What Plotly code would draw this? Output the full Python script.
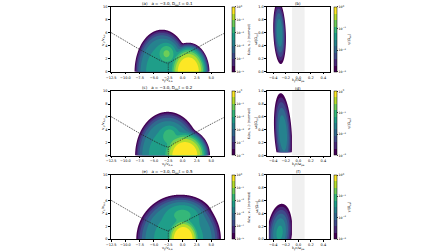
import numpy as np
import plotly.graph_objects as go

W, H = 448, 252

# ---------------- values ----------------
left_panel_tags = ["(a)", "(c)", "(e)"]
right_panel_tags = ["(b)", "(d)", "(f)"]
a_value = -3.0
dmumu_t = [0.1, 0.2, 0.5]

# electron distribution: core population (log10 peak, centre, reach of 1e-5 contour)
core_log_peak = [0.0, 0.0, 0.0]
core_vpar = [1.0, 0.4, 0.1]
core_reach_par = [3.7, 4.4, 3.3]
core_reach_perp = [4.5, 4.2, 3.8]
core_flat = [3.3, 3.3, 3.3]

# scattered halo population
halo_log_peak = [-2.4, -2.4, -2.4]
halo_vpar = [-3.6, -2.6, -0.7]
halo_reach_par = [4.8, 5.7, 7.4]
halo_reach_perp = [6.5, 6.8, 6.8]
halo_flat = [6.0, 6.0, 6.0]

# enhanced patch inside the halo
patch_log_peak = [-1.4, -1.6, -1.9]
patch_vpar = [-2.8, -2.3, 0.0]
patch_vperp = [2.8, 3.0, 3.8]
patch_reach_par = [2.6, 2.6, 5.0]
patch_reach_perp = [2.6, 2.6, 3.0]

# resonance curve (dashed)
res_vpar = [-12.5, -10.0, -7.5, -5.5, -3.5, -2.5, -1.5, 0.0, 2.5, 5.0, 7.3]
res_vperp = [6.05, 4.75, 3.45, 2.5, 1.6, 1.35, 1.85, 2.55, 3.7, 4.9, 5.95]
res_vert_vpar = [-2.5, -2.5]
res_vert_vperp = [0.0, 1.35]

# growth-rate regions
gam_log_peak = [-1.5, -1.5, -1.4]
gam_k = [-0.30, -0.245, -0.30]
gam_w = [0.60, 0.35, 0.10]
gam_reach_k = [0.10, 0.14, 0.20]
gam_reach_w = [0.48, 0.62, 0.45]
gam_tilt = [-0.04, -0.06, 0.08]
gam_k_lo = [-0.5, -0.5, -0.47]
gam_k_hi = [-0.1, -0.1, -0.1]
gam_w_lo = [0.0, 0.05, 0.0]
band_k = [-0.1, 0.1]

left_xticks = [-12.5, -10.0, -7.5, -5.0, -2.5, 0.0, 2.5, 5.0]
left_yticks = [0, 2, 4, 6, 8, 10]
right_xticks = [-0.4, -0.2, 0.0, 0.2, 0.4]
right_yticks = [0.0, 0.2, 0.4, 0.6, 0.8, 1.0]
f_cbar_exps = [0, -1, -2, -3, -4, -5]
g_cbar_exps = [0, -1, -2, -3]

VIR = ['#440154', '#482878', '#3e4989', '#31688e', '#26828e',
       '#1f9e89', '#35b779', '#6ece58', '#b5de2b', '#fde725']

# ---------------- geometry ----------------
def px2x(p):
    return p / W

def py2y(p):
    return 1 - p / H

LEFT_PX = (107.0, 221.7)
RIGHT_PX = (265.0, 328.3)
ROWS_PX = [(5.0, 71.0), (90.7, 156.0), (175.7, 241.0)]
FONT = "DejaVu Sans"

LOG_E = np.log10(np.e)


def component(X, Y, logA, cx, cy, rx, ry, p, floor=-5.0):
    dedge = ((logA - floor) / LOG_E) ** (1.0 / p)
    wx, wy = rx / dedge, ry / dedge
    d = np.sqrt(((X - cx) / wx) ** 2 + ((Y - cy) / wy) ** 2)
    return 10 ** logA * np.exp(-d ** p)


vpar = np.linspace(-12.6, 7.4, 501)
vperp = np.linspace(0, 10.0, 251)
VX, VY = np.meshgrid(vpar, vperp)

kk = np.linspace(-0.5, 0.5, 401)
ww = np.linspace(0, 1.0, 301)
KX, WY = np.meshgrid(kk, ww)

contour_cs = [[0, 'rgba(255,255,255,0)']] + [[(i + 1) / 10, VIR[i]] for i in range(10)]
bar_cs = []
for i in range(10):
    bar_cs += [[i / 10, VIR[i]], [(i + 1) / 10, VIR[i]]]

fig = go.Figure()
layout_axes = {}
annotations = []
shapes = []


def fmt(v, nd):
    s = f"{v:.{nd}f}"
    return s.replace('-', '\u2212')


def exp_lbl(e):
    return "10<sup>" + (str(e).replace('-', '\u2212')) + "</sup>"


def axis(domain, rng, tv, tt, anchor):
    return dict(domain=domain, range=rng, tickvals=tv, ticktext=tt,
                showgrid=False, zeroline=False, showline=True, linecolor='black',
                linewidth=0.6, mirror=True, ticks='outside', ticklen=1.8,
                tickwidth=0.5, tickcolor='black',
                tickfont=dict(size=3.5, color='black', family=FONT), anchor=anchor)


for r in range(3):
    top, bot = ROWS_PX[r]
    ydom = [py2y(bot), py2y(top)]
    ixl = 2 * r + 1
    ixr = 2 * r + 2
    xl, yl = f"x{ixl}", f"y{ixl}"
    xr, yr = f"x{ixr}", f"y{ixr}"

    # ---- left: distribution ----
    f = (component(VX, VY, core_log_peak[r], core_vpar[r], 0.0,
                   core_reach_par[r], core_reach_perp[r], core_flat[r])
         + component(VX, VY, halo_log_peak[r], halo_vpar[r], 0.0,
                     halo_reach_par[r], halo_reach_perp[r], halo_flat[r])
         + component(VX, VY, patch_log_peak[r], patch_vpar[r], patch_vperp[r],
                     patch_reach_par[r], patch_reach_perp[r], 2.0))
    logf = np.log10(f + 1e-30)
    fig.add_trace(go.Contour(
        x=vpar, y=vperp, z=logf, xaxis=xl, yaxis=yl,
        autocontour=False, contours=dict(start=-5, end=-0.5, size=0.5, coloring='fill', showlines=False),
        line=dict(width=0), colorscale=contour_cs, showscale=False, hoverinfo='skip'))
    fig.add_trace(go.Scatter(x=res_vpar, y=res_vperp, xaxis=xl, yaxis=yl, mode='lines',
                             line=dict(color='#222222', width=0.7, dash='1.6px,1.0px'),
                             line_shape='spline', hoverinfo='skip', showlegend=False))
    fig.add_trace(go.Scatter(x=res_vert_vpar, y=res_vert_vperp, xaxis=xl, yaxis=yl, mode='lines',
                             line=dict(color='#222222', width=0.7, dash='1.0px,0.8px'),
                             hoverinfo='skip', showlegend=False))
    # colourbar for f
    fig.add_trace(go.Scatter(
        x=[-100], y=[-100], xaxis=xl, yaxis=yl, mode='markers', showlegend=False, hoverinfo='skip',
        marker=dict(color=[-2], cmin=-5, cmax=0, colorscale=bar_cs, showscale=True, size=1,
                    colorbar=dict(x=px2x(229.3), xanchor='left', xpad=0, ypad=0,
                                  thickness=3.4, thicknessmode='pixels',
                                  len=(bot - top) / H, lenmode='fraction',
                                  y=py2y((top + bot) / 2), yanchor='middle',
                                  outlinewidth=0.5, outlinecolor='black',
                                  ticks='outside', ticklen=1.2, tickwidth=0.4,
                                  tickvals=f_cbar_exps, ticktext=[exp_lbl(e) for e in f_cbar_exps],
                                  tickfont=dict(size=3.2, family=FONT, color='black'),
                                  title=dict(text="f<sub>e</sub>(v<sub>∥</sub>, v<sub>⊥</sub>) (normed)",
                                             side='right', font=dict(size=3.3, family=FONT, color='black'))))))

    layout_axes[f"xaxis{ixl}"] = axis([px2x(LEFT_PX[0]), px2x(LEFT_PX[1])], [-12.55, 7.28],
                                      left_xticks, [fmt(v, 1) for v in left_xticks], yl)
    layout_axes[f"yaxis{ixl}"] = axis(ydom, [0, 10], left_yticks, [str(v) for v in left_yticks], xl)

    # ---- right: growth rate ----
    Ws = WY - gam_w[r]
    Ks = KX - gam_k[r] - gam_tilt[r] * Ws
    dn = (Ks / gam_reach_k[r]) ** 2 + (Ws / gam_reach_w[r]) ** 2
    logg = gam_log_peak[r] - (gam_log_peak[r] + 3.0) * dn
    mask = (KX < gam_k_lo[r]) | (KX > gam_k_hi[r]) | (WY < gam_w_lo[r])
    logg = np.where(mask, -10.0, logg)
    shapes.append(dict(type='rect', xref=xr, yref=yr, x0=band_k[0], x1=band_k[1], y0=0, y1=1,
                       fillcolor='#f0f0f0', line=dict(width=0), layer='below'))
    fig.add_trace(go.Contour(
        x=kk, y=ww, z=logg, xaxis=xr, yaxis=yr,
        autocontour=False, contours=dict(start=-3, end=-0.3, size=0.3, coloring='fill', showlines=False),
        line=dict(width=0), colorscale=contour_cs, showscale=False, hoverinfo='skip'))
    fig.add_trace(go.Scatter(
        x=[-100], y=[-100], xaxis=xr, yaxis=yr, mode='markers', showlegend=False, hoverinfo='skip',
        marker=dict(color=[-2], cmin=-3, cmax=0, colorscale=bar_cs, showscale=True, size=1,
                    colorbar=dict(x=px2x(332.7), xanchor='left', xpad=0, ypad=0,
                                  thickness=3.4, thicknessmode='pixels',
                                  len=(bot - top) / H, lenmode='fraction',
                                  y=py2y((top + bot) / 2), yanchor='middle',
                                  outlinewidth=0.5, outlinecolor='black',
                                  ticks='outside', ticklen=1.2, tickwidth=0.4,
                                  tickvals=g_cbar_exps, ticktext=[exp_lbl(e) for e in g_cbar_exps],
                                  tickfont=dict(size=3.2, family=FONT, color='black'),
                                  title=dict(text="γ/|Ω<sub>ce</sub>|",
                                             side='right', font=dict(size=3.3, family=FONT, color='black'))))))
    layout_axes[f"xaxis{ixr}"] = axis([px2x(RIGHT_PX[0]), px2x(RIGHT_PX[1])], [-0.5, 0.5],
                                      right_xticks, [fmt(v, 1) for v in right_xticks], yr)
    layout_axes[f"yaxis{ixr}"] = axis(ydom, [0, 1], right_yticks, [fmt(v, 1) for v in right_yticks], xr)

    # ---- texts ----
    tf = dict(size=4.0, family=FONT, color='black')
    lf = dict(size=3.5, family=FONT, color='black')
    annotations.append(dict(
        text=f"{left_panel_tags[r]}   a = {fmt(a_value, 1)}, D<sub>μμ</sub>t = {dmumu_t[r]}",
        x=px2x(sum(LEFT_PX) / 2), y=py2y(top - 3.0), xref='paper', yref='paper',
        showarrow=False, font=tf, xanchor='center', yanchor='middle'))
    annotations.append(dict(
        text=right_panel_tags[r], x=px2x(sum(RIGHT_PX) / 2), y=py2y(top - 3.0),
        xref='paper', yref='paper', showarrow=False, font=tf, xanchor='center', yanchor='middle'))
    annotations.append(dict(
        text="v<sub>∥</sub>/v<sub>A,e</sub>", x=px2x(sum(LEFT_PX) / 2), y=py2y(bot + 9.0),
        xref='paper', yref='paper', showarrow=False, font=lf, xanchor='center', yanchor='middle'))
    annotations.append(dict(
        text="k<sub>∥</sub>c/ω<sub>pe</sub>", x=px2x(sum(RIGHT_PX) / 2), y=py2y(bot + 9.0),
        xref='paper', yref='paper', showarrow=False, font=lf, xanchor='center', yanchor='middle'))
    annotations.append(dict(
        text="v<sub>⊥</sub>/v<sub>A,e</sub>", x=px2x(99.5), y=py2y((top + bot) / 2), textangle=-90,
        xref='paper', yref='paper', showarrow=False, font=lf, xanchor='center', yanchor='middle'))
    annotations.append(dict(
        text="ω/|Ω<sub>ce</sub>|", x=px2x(254.5), y=py2y((top + bot) / 2), textangle=-90,
        xref='paper', yref='paper', showarrow=False, font=lf, xanchor='center', yanchor='middle'))

fig.update_layout(width=W, height=H, margin=dict(l=0, r=0, t=0, b=0),
                  paper_bgcolor='white', plot_bgcolor='white', showlegend=False,
                  font=dict(family=FONT, size=4, color='black'),
                  annotations=annotations, shapes=shapes, **layout_axes)
fig.write_html("out.html", config={'displayModeBar': False},
               post_script="document.body.style.margin='0px';")
